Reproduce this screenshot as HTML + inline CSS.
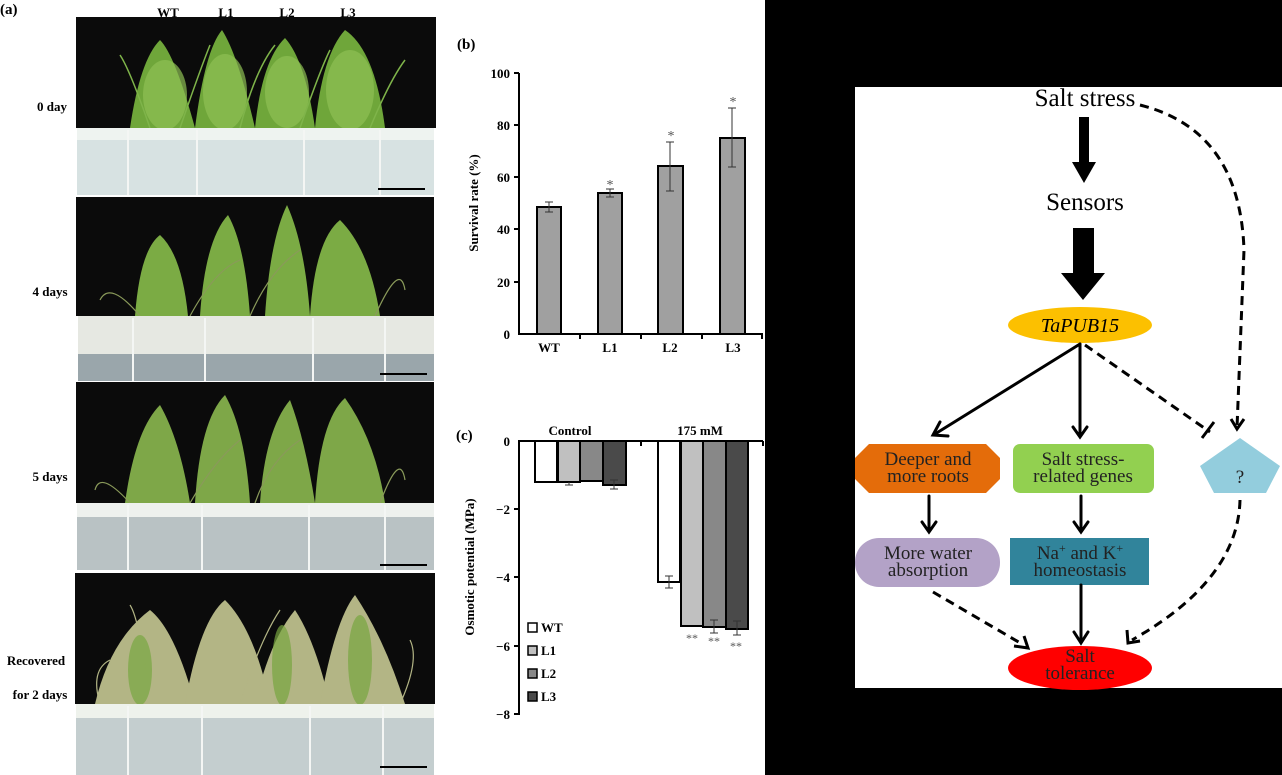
<!DOCTYPE html>
<html><head><meta charset="utf-8"><style>
html,body{margin:0;padding:0;background:#fff}
svg{display:block}
text{font-family:"Liberation Serif",serif}
</style></head><body>
<svg width="1282" height="775" viewBox="0 0 1282 775" xmlns="http://www.w3.org/2000/svg">
<rect x="0" y="0" width="765" height="775" fill="#fff"/>
<rect x="765" y="0" width="517" height="775" fill="#000"/>
<rect x="855" y="87" width="427" height="601" fill="#fff"/>

<!-- (a) labels -->
<text x="0" y="14" font-family="Liberation Sans" font-weight="bold" font-size="15">(a)</text>
<g font-weight="bold" font-size="13" text-anchor="middle">
<text x="168" y="17">WT</text><text x="226" y="17">L1</text><text x="287" y="17">L2</text><text x="348" y="17">L3</text>
<text x="52" y="111">0 day</text>
<text x="50" y="296">4 days</text>
<text x="50" y="481">5 days</text>
<text x="36" y="665">Recovered</text>
<text x="40" y="699">for 2 days</text>
</g>

<!-- photo panels -->
<g>
<!-- panel1 -->
<rect x="76" y="17" width="360" height="111" fill="#0b0b0b"/>
<g fill="#6fa63a">
<path d="M130 128 Q140 60 160 40 Q175 55 195 128Z"/><path d="M195 128 Q205 50 222 30 Q238 55 255 128Z"/>
<path d="M255 128 Q262 60 285 38 Q305 60 315 128Z"/><path d="M315 128 Q322 55 345 30 Q375 50 385 128Z"/>
</g>
<g fill="#8fc054" opacity=".7">
<ellipse cx="165" cy="95" rx="22" ry="35"/><ellipse cx="225" cy="92" rx="22" ry="38"/><ellipse cx="287" cy="92" rx="22" ry="36"/><ellipse cx="350" cy="90" rx="24" ry="40"/>
</g>
<g stroke="#7fb44a" stroke-width="1.5" fill="none">
<path d="M150 128 Q130 70 120 55"/><path d="M180 128 Q200 70 210 45"/><path d="M240 128 Q255 70 275 45"/><path d="M300 128 Q320 70 330 50"/><path d="M370 128 Q390 80 405 60"/>
</g>
<rect x="77" y="128" width="357" height="67" fill="#d7e2e2"/>
<rect x="77" y="128" width="357" height="12" fill="#eef3f0"/>
<g stroke="#f4f6f4" stroke-width="2"><line x1="128" y1="130" x2="128" y2="195"/><line x1="197" y1="130" x2="197" y2="195"/><line x1="304" y1="130" x2="304" y2="195"/><line x1="380" y1="130" x2="380" y2="195"/></g>
<line x1="378" y1="189" x2="425" y2="189" stroke="#000" stroke-width="2"/>
<!-- panel2 -->
<rect x="76" y="197" width="358" height="119" fill="#0b0b0b"/>
<g fill="#7bab44">
<path d="M135 316 Q140 250 160 235 Q182 255 188 316Z"/><path d="M200 316 Q205 240 228 215 Q245 245 250 316Z"/>
<path d="M265 316 Q270 240 287 205 Q305 245 310 316Z"/><path d="M310 316 Q315 240 340 220 Q370 250 380 316Z"/>
</g>
<g stroke="#8a9a5a" stroke-width="1.2" fill="none">
<path d="M140 316 Q110 280 100 300"/><path d="M190 316 Q215 270 240 260"/><path d="M250 316 Q270 270 300 250"/><path d="M375 316 Q400 260 405 290"/>
</g>
<rect x="78" y="316" width="356" height="65" fill="#9aa6ab"/>
<rect x="78" y="316" width="356" height="38" fill="#e6e8e2"/>
<g stroke="#f4f6f4" stroke-width="2"><line x1="133" y1="318" x2="133" y2="381"/><line x1="205" y1="318" x2="205" y2="381"/><line x1="313" y1="318" x2="313" y2="381"/><line x1="385" y1="318" x2="385" y2="381"/></g>
<line x1="380" y1="374" x2="427" y2="374" stroke="#000" stroke-width="2"/>
<!-- panel3 -->
<rect x="76" y="382" width="358" height="121" fill="#0b0b0b"/>
<g fill="#7ea748">
<path d="M125 503 Q135 430 160 405 Q180 440 190 503Z"/><path d="M195 503 Q200 420 225 395 Q245 430 250 503Z"/>
<path d="M260 503 Q265 430 290 400 Q305 440 315 503Z"/><path d="M315 503 Q320 420 345 398 Q375 440 385 503Z"/>
</g>
<g stroke="#8a9a5a" stroke-width="1.2" fill="none">
<path d="M130 503 Q100 470 95 490"/><path d="M190 503 Q215 460 240 440"/><path d="M255 503 Q270 460 300 440"/><path d="M380 503 Q400 450 405 480"/>
</g>
<rect x="77" y="503" width="357" height="67" fill="#b9c2c4"/>
<rect x="77" y="503" width="357" height="14" fill="#eef1ee"/>
<g stroke="#f4f6f4" stroke-width="2"><line x1="128" y1="505" x2="128" y2="570"/><line x1="202" y1="505" x2="202" y2="570"/><line x1="309" y1="505" x2="309" y2="570"/><line x1="385" y1="505" x2="385" y2="570"/></g>
<line x1="380" y1="565" x2="427" y2="565" stroke="#000" stroke-width="2"/>
<!-- panel4 -->
<rect x="75" y="573" width="360" height="131" fill="#0b0b0b"/>
<g fill="#b3b585">
<path d="M95 704 Q110 640 150 610 Q175 630 195 704Z"/><path d="M185 704 Q200 620 225 600 Q255 630 270 704Z"/>
<path d="M255 704 Q270 640 295 610 Q315 640 330 704Z"/><path d="M320 704 Q335 620 355 595 Q385 640 405 704Z"/>
</g>
<g stroke="#b3b585" stroke-width="1.2" fill="none">
<path d="M100 704 Q90 670 110 660"/><path d="M150 704 Q140 620 130 605"/><path d="M240 704 Q260 640 280 610"/><path d="M400 704 Q420 660 410 640"/>
</g>
<g fill="#78a640" opacity=".7"><ellipse cx="140" cy="670" rx="12" ry="35"/><ellipse cx="282" cy="665" rx="10" ry="40"/><ellipse cx="360" cy="660" rx="12" ry="45"/></g>
<rect x="76" y="704" width="358" height="71" fill="#c4cecf"/>
<rect x="76" y="704" width="358" height="14" fill="#eef2ec"/>
<g stroke="#f4f6f4" stroke-width="2"><line x1="128" y1="706" x2="128" y2="775"/><line x1="202" y1="706" x2="202" y2="775"/><line x1="310" y1="706" x2="310" y2="775"/><line x1="383" y1="706" x2="383" y2="775"/></g>
<line x1="380" y1="767" x2="427" y2="767" stroke="#000" stroke-width="2"/>
</g>

<!-- (b) chart -->
<text x="457" y="49" font-family="Liberation Sans" font-weight="bold" font-size="15">(b)</text>
<g stroke="#000" stroke-width="2" fill="none">
<line x1="519" y1="73" x2="519" y2="335"/><line x1="518" y1="334" x2="763" y2="334"/>
<line x1="514" y1="73" x2="519" y2="73"/><line x1="514" y1="125" x2="519" y2="125"/><line x1="514" y1="177" x2="519" y2="177"/><line x1="514" y1="229" x2="519" y2="229"/><line x1="514" y1="282" x2="519" y2="282"/>
<line x1="580" y1="334" x2="580" y2="339"/><line x1="641" y1="334" x2="641" y2="339"/><line x1="702" y1="334" x2="702" y2="339"/><line x1="762" y1="334" x2="762" y2="339"/>
</g>
<g fill="#a0a0a0" stroke="#000" stroke-width="2">
<rect x="537" y="207" width="24" height="127"/><rect x="598" y="193" width="24" height="141"/><rect x="658" y="166" width="25" height="168"/><rect x="720" y="138" width="25" height="196"/>
</g>
<g stroke="#333" stroke-width="1">
<path d="M549 202V212M545 202H553M545 212H553"/><path d="M610 189V197M606 189H614M606 197H614"/>
<path d="M670 142V191M666 142H674M666 191H674"/><path d="M732 108V167M728 108H736M728 167H736"/>
</g>
<g font-size="14" fill="#555" text-anchor="middle"><text x="610" y="189">*</text><text x="671" y="140">*</text><text x="733" y="106">*</text></g>
<g font-weight="bold" font-size="13" text-anchor="end">
<text x="510" y="78">100</text><text x="510" y="130">80</text><text x="510" y="182">60</text><text x="510" y="234">40</text><text x="510" y="287">20</text><text x="510" y="339">0</text>
</g>
<g font-weight="bold" font-size="13" text-anchor="middle"><text x="549" y="352">WT</text><text x="610" y="352">L1</text><text x="670" y="352">L2</text><text x="733" y="352">L3</text></g>
<text transform="translate(478 203) rotate(-90)" font-weight="bold" font-size="13" text-anchor="middle">Survival rate (%)</text>

<!-- (c) chart -->
<text x="456" y="440" font-family="Liberation Sans" font-weight="bold" font-size="15">(c)</text>
<g font-weight="bold" font-size="13" text-anchor="middle"><text x="570" y="435">Control</text><text x="700" y="435">175 mM</text></g>
<g stroke="#000" stroke-width="2" fill="none">
<line x1="519" y1="441" x2="519" y2="715"/><line x1="518" y1="441" x2="763" y2="441"/>
<line x1="514" y1="509" x2="519" y2="509"/><line x1="514" y1="577" x2="519" y2="577"/><line x1="514" y1="646" x2="519" y2="646"/><line x1="514" y1="714" x2="519" y2="714"/>
<line x1="641" y1="441" x2="641" y2="446"/><line x1="763" y1="441" x2="763" y2="446"/>
</g>
<g stroke="#000" stroke-width="2">
<rect x="535" y="441" width="22" height="41" fill="#fff"/><rect x="558" y="441" width="22" height="41" fill="#c0c0c0"/><rect x="580" y="441" width="23" height="40" fill="#888"/><rect x="603" y="441" width="23" height="44" fill="#4a4a4a"/>
<rect x="658" y="441" width="22" height="141" fill="#fff"/><rect x="681" y="441" width="22" height="185" fill="#c0c0c0"/><rect x="703" y="441" width="23" height="186" fill="#888"/><rect x="726" y="441" width="22" height="188" fill="#4a4a4a"/>
</g>
<g stroke="#333" stroke-width="1">
<path d="M569 482V485M565 485H573"/><path d="M614 480V489M610 480H618M610 489H618"/>
<path d="M669 576V588M665 576H673M665 588H673"/><path d="M714 620V633M710 620H718M710 633H718"/><path d="M737 621V635M733 621H741M733 635H741"/>
</g>
<g font-size="12" fill="#555" text-anchor="middle"><text x="692" y="642">**</text><text x="714" y="645">**</text><text x="736" y="650">**</text></g>
<g font-weight="bold" font-size="13" text-anchor="end">
<text x="510" y="446">0</text><text x="510" y="514">−2</text><text x="510" y="582">−4</text><text x="510" y="651">−6</text><text x="510" y="719">−8</text>
</g>
<text transform="translate(474 567) rotate(-90)" font-weight="bold" font-size="13" text-anchor="middle">Osmotic potential (MPa)</text>
<g stroke="#000" stroke-width="1.5">
<rect x="528" y="623" width="9" height="9" fill="#fff"/><rect x="528" y="646" width="9" height="9" fill="#c0c0c0"/><rect x="528" y="669" width="9" height="9" fill="#888"/><rect x="528" y="692" width="9" height="9" fill="#4a4a4a"/>
</g>
<g font-weight="bold" font-size="13"><text x="541" y="632">WT</text><text x="541" y="655">L1</text><text x="541" y="678">L2</text><text x="541" y="701">L3</text></g>

<!-- diagram -->
<g font-size="25" text-anchor="middle">
<text x="1085" y="106">Salt stress</text>
<text x="1085" y="210">Sensors</text>
</g>
<path d="M1079 117H1089V162H1096L1084 183L1072 162H1079Z" fill="#000"/>
<path d="M1073 228H1094V273H1105L1083 300L1061 273H1073Z" fill="#000"/>
<ellipse cx="1080" cy="325" rx="72" ry="18" fill="#fcc000"/>
<text x="1080" y="332" font-size="20" font-style="italic" text-anchor="middle">TaPUB15</text>

<path d="M869 444H986L1000 458V479L986 493H869L855 479V458Z" fill="#e46c0a"/>
<rect x="1013" y="444" width="141" height="49" rx="7" fill="#92d050"/>
<path d="M1240 438L1280 466L1266 493H1214L1200 466Z" fill="#93cddd"/>
<rect x="855" y="538" width="145" height="49" rx="24" fill="#b3a2c7"/>
<rect x="1010" y="538" width="139" height="47" fill="#31849b"/>
<ellipse cx="1080" cy="668" rx="72" ry="22" fill="#ff0000"/>

<g font-size="19" text-anchor="middle" fill="#222">
<text x="928" y="465">Deeper and</text><text x="928" y="482">more roots</text>
<text x="1083" y="465">Salt stress-</text><text x="1083" y="482">related genes</text>
<text x="1240" y="483">?</text>
<text x="928" y="559">More water</text><text x="928" y="576">absorption</text>
<text x="1080" y="559">Na<tspan font-size="12" dy="-7">+</tspan><tspan dy="7"> and K</tspan><tspan font-size="12" dy="-7">+</tspan></text><text x="1080" y="576">homeostasis</text>
<text x="1080" y="662">Salt</text><text x="1080" y="679">tolerance</text>
</g>

<g stroke="#000" stroke-width="3" fill="none" stroke-linecap="round">
<line x1="1080" y1="344" x2="935" y2="434"/><path d="M940 422L933 435L948 436"/>
<line x1="1080" y1="344" x2="1080" y2="436"/><path d="M1073 427L1080 437L1087 427"/>
<line x1="929" y1="496" x2="929" y2="531"/><path d="M922 522L929 532L936 522"/>
<line x1="1081" y1="496" x2="1081" y2="531"/><path d="M1074 522L1081 532L1088 522"/>
<line x1="1081" y1="585" x2="1081" y2="642"/><path d="M1074 632L1081 643L1088 632"/>
</g>
<g stroke="#000" stroke-width="3" fill="none" stroke-dasharray="9,6">
<line x1="1085" y1="345" x2="1210" y2="432"/>
<line x1="933" y1="592" x2="1022" y2="644"/>
<path d="M1140 105 Q1240 130 1244 250 L1237 428"/>
<path d="M1240 500 Q1238 580 1132 640"/>
</g>
<g stroke="#000" stroke-width="3" fill="none">
<line x1="1202" y1="438" x2="1214" y2="422"/>
<path d="M1231 419L1237 429L1244 419"/>
<path d="M1014 646L1028 648L1024 636"/>
<path d="M1127 630L1128 643L1140 641"/>
</g>
</svg>
</body></html>
